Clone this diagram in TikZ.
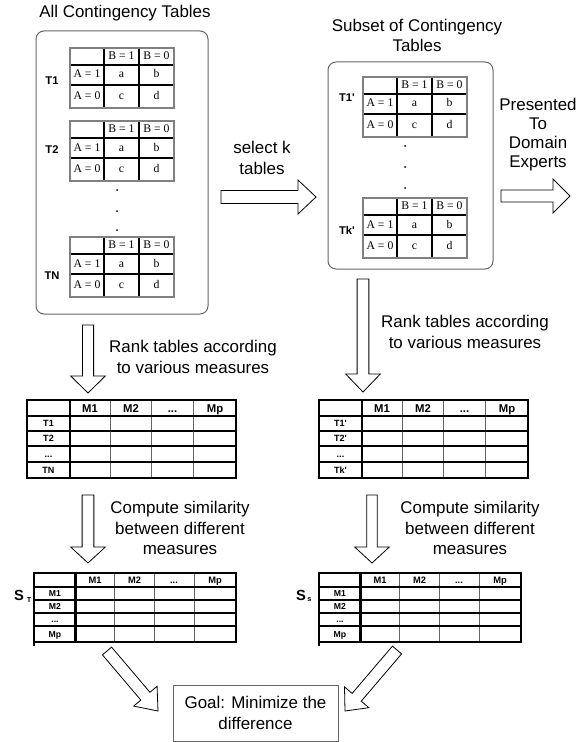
\documentclass[tikz,border=0pt]{standalone}
\usepackage{fontspec}
\setmainfont{Liberation Sans}[Ligatures=TeXOff]
\newfontfamily\tabserif{Liberation Serif}
\usetikzlibrary{calc}

% fat outlined arrow: start, end, shaft half width, head half width, head length
\newcommand\fatarrow[5]{%
  \coordinate (fabase) at ($(#2)!#5!(#1)$);
  \draw[fatarr] ($(#1)!#3!90:(#2)$) -- ($(fabase)!#3!90:(#2)$) -- ($(fabase)!#4!90:(#2)$)
     -- (#2) -- ($(fabase)!#4!-90:(#2)$) -- ($(fabase)!#3!-90:(#2)$) -- ($(#1)!#3!-90:(#2)$) -- cycle;}

% contingency table: name, x, y
\newcommand\ctab[3]{%
\begin{scope}[shift={(#2,#3)}]
\draw[ctin] (34,0) -- (34,60) (69,0) -- (69,60) (0,17) -- (104,17) (0,37) -- (104,37);
\draw[ctout] (0,0) rectangle (104,60);
\node[ct] (#1-b1) at (51.5,8.5) {B = 1};
\node[ct] (#1-b0) at (86.5,8.5) {B = 0};
\node[ct] (#1-a1) at (17,27) {A = 1};
\node[ct] (#1-a0) at (17,48.5) {A = 0};
\node[ct] (#1-a) at (51.5,27) {a};
\node[ct] (#1-b) at (86.5,27) {b};
\node[ct] (#1-c) at (51.5,48.5) {c};
\node[ct] (#1-d) at (86.5,48.5) {d};
\end{scope}}

% rank table: name, x, y, four row labels
\newcommand\ranktab[7]{%
\begin{scope}[shift={(#2,#3)}]
\draw[rthin] (83.5,0) -- (83.5,78) (124.5,0) -- (124.5,78) (166.5,0) -- (166.5,78);
\draw[rrow] (0,31) -- (209,31) (0,46) -- (209,46) (0,62) -- (209,62);
\draw[rhead] (0,16) -- (209,16) (43,0) -- (43,78);
\draw[router] (0,0) rectangle (209,78);
\node[rh] (#1-h1) at (63,8) {M1};
\node[rh] (#1-h2) at (104,8) {M2};
\node[rh] (#1-h3) at (145.5,8) {...};
\node[rh] (#1-h4) at (188,8) {Mp};
\node[rl] (#1-r1) at (21.5,23.5) {#4};
\node[rl] (#1-r2) at (21.5,38.5) {#5};
\node[rl] (#1-r3) at (21.5,54) {#6};
\node[rl] (#1-r4) at (21.5,70) {#7};
\end{scope}}

% similarity table: name, x, y
\newcommand\simtab[3]{%
\begin{scope}[shift={(#2,#3)}]
\draw[rthin] (80.5,0) -- (80.5,69) (120.5,0) -- (120.5,69) (160,0) -- (160,69);
\draw[rrow] (0,27) -- (202,27) (0,40) -- (202,40) (0,53) -- (202,53);
\draw[rhead] (0,14) -- (202,14) (41.5,0) -- (41.5,69);
\draw[router] (0,0) rectangle (202,69);
\draw[router] (0,69) -- (0,73);
\node[sh] (#1-h1) at (61,7) {M1};
\node[sh] (#1-h2) at (100.5,7) {M2};
\node[sh] (#1-h3) at (140,7) {...};
\node[sh] (#1-h4) at (181,7) {Mp};
\node[sl] (#1-r1) at (21,20.5) {M1};
\node[sl] (#1-r2) at (21,33.5) {M2};
\node[sl] (#1-r3) at (21,46.5) {...};
\node[sl] (#1-r4) at (21,61) {Mp};
\end{scope}}

\begin{document}
\begin{tikzpicture}[x=0.75pt,y=-0.75pt,
  lbl/.style={font=\fontsize{12.7}{15.5}\selectfont, align=center, inner sep=0},
  tlab/.style={font=\fontsize{8.4}{9}\selectfont\bfseries, inner sep=0},
  ct/.style={font=\tabserif\fontsize{8.8}{10}\selectfont, inner sep=0, text height=6pt, text depth=1.5pt},
  ctin/.style={draw=black, line width=0.9pt},
  ctout/.style={draw=black!50, line width=0.8pt},
  roundbox/.style={draw=black!60, line width=0.75pt, rounded corners=6pt, inner sep=0},
  goalbox/.style={draw=black!60, line width=0.75pt, inner sep=0, align=center,
     font=\fontsize{12.7}{15.5}\selectfont},
  fatarr/.style={draw=black, line width=0.6pt, fill=white, line join=miter},
  rthin/.style={draw=black!60, line width=0.6pt},
  rrow/.style={draw=black, line width=1.1pt},
  rhead/.style={draw=black, line width=1.7pt},
  router/.style={draw=black, line width=2pt},
  rh/.style={font=\fontsize{8.5}{9}\selectfont\bfseries, inner sep=0, text height=6pt, text depth=0pt},
  rl/.style={font=\fontsize{6.8}{7}\selectfont\bfseries, inner sep=0, text height=4.9pt, text depth=0pt},
  sh/.style={font=\fontsize{7}{8}\selectfont\bfseries, inner sep=0, text height=5pt, text depth=0pt},
  sl/.style={font=\fontsize{6.5}{7}\selectfont\bfseries, inner sep=0, text height=4.6pt, text depth=0pt},
  dot/.style={fill=black}
]
\useasboundingbox (0,0) rectangle (583,742);

% ---- left group: all contingency tables
\node[lbl] (title1) at (125,13) {All Contingency Tables};
\node[roundbox, minimum width=129pt, minimum height=212.25pt] (box1) at (122,172.5) {};
\ctab{t1}{70}{48}
\ctab{t2}{70}{121}
\ctab{tn}{70}{237}
\node[tlab] (t1lab) at (52,81) {T1};
\node[tlab] (t2lab) at (52,150) {T2};
\node[tlab] (tnlab) at (52,276) {TN};
\fill[dot] (117,190) circle (1);
\fill[dot] (117,211) circle (1);
\fill[dot] (117,230) circle (1);

% ---- right group: subset
\node[lbl] (title2) at (417,35.5) {Subset of Contingency\\Tables};
\node[roundbox, minimum width=123.75pt, minimum height=155.25pt] (box2) at (410.5,165.5) {};
\ctab{s1}{363}{77}
\ctab{sk}{363}{198}
\node[tlab] (s1lab) at (347,98) {T1'};
\node[tlab] (sklab) at (347,230) {Tk'};
\fill[dot] (405,146) circle (1);
\fill[dot] (405,167) circle (1);
\fill[dot] (405,188) circle (1);

% ---- select arrow
\coordinate (selS) at (221,197);
\coordinate (selE) at (316,197);
\fatarrow{selS}{selE}{4.9pt}{12.75pt}{13.5pt}
\node[lbl] (sellab) at (262,158) {select k\\tables};

% ---- presented arrow
\coordinate (preS) at (501,196);
\coordinate (preE) at (570,196);
\fatarrow{preS}{preE}{4.5pt}{12.75pt}{12.75pt}
\node[lbl, font=\fontsize{12.7}{14.2}\selectfont] (prelab) at (538,135) {Presented\\To\\Domain\\Experts};

% ---- rank arrows
\coordinate (rkLS) at (88,325);
\coordinate (rkLE) at (88,393);
\fatarrow{rkLS}{rkLE}{4.2pt}{13pt}{12.75pt}
\node[lbl] (rkLlab) at (193,357) {Rank tables according\\to various measures};
\coordinate (rkRS) at (363,279);
\coordinate (rkRE) at (363,392);
\fatarrow{rkRS}{rkRE}{4.4pt}{13pt}{13.5pt}
\node[lbl] (rkRlab) at (465,332) {Rank tables according\\to various measures};

% ---- rank tables
\ranktab{rL}{27}{400}{T1}{T2}{...}{TN}
\ranktab{rR}{319}{400}{T1'}{T2'}{...}{Tk'}

% ---- compute arrows
\coordinate (cpLS) at (88,495);
\coordinate (cpLE) at (88,563);
\fatarrow{cpLS}{cpLE}{4.4pt}{13pt}{12pt}
\node[lbl] (cpLlab) at (180,528) {Compute similarity\\between different\\measures};
\coordinate (cpRS) at (372,495);
\coordinate (cpRE) at (372,563);
\fatarrow{cpRS}{cpRE}{3.9pt}{13pt}{12pt}
\node[lbl] (cpRlab) at (470,528) {Compute similarity\\between different\\measures};

% ---- similarity tables
\simtab{sT}{34}{573}
\simtab{sS}{319}{573}
\node[font=\fontsize{11}{12}\selectfont\bfseries, inner sep=0] (STS) at (19,595) {S};
\node[font=\fontsize{5.5}{6}\selectfont\bfseries, inner sep=0] (STT) at (29,600) {T};
\node[font=\fontsize{11}{12}\selectfont\bfseries, inner sep=0] (SSS) at (301,595) {S};
\node[font=\fontsize{5.5}{6}\selectfont\bfseries, inner sep=0] (SSs) at (309.5,600) {s};

% ---- goal
\node[goalbox, minimum width=123.75pt, minimum height=42pt] (goal) at (255.5,713) {Goal: Minimize the\\difference};
\coordinate (dgLS) at (107,651);
\coordinate (dgLE) at (158,711);
\fatarrow{dgLS}{dgLE}{4.5pt}{11.5pt}{14.6pt}
\coordinate (dgRS) at (397,650);
\coordinate (dgRE) at (345,711);
\fatarrow{dgRS}{dgRE}{4.5pt}{12pt}{13.5pt}
\end{tikzpicture}
\end{document}
